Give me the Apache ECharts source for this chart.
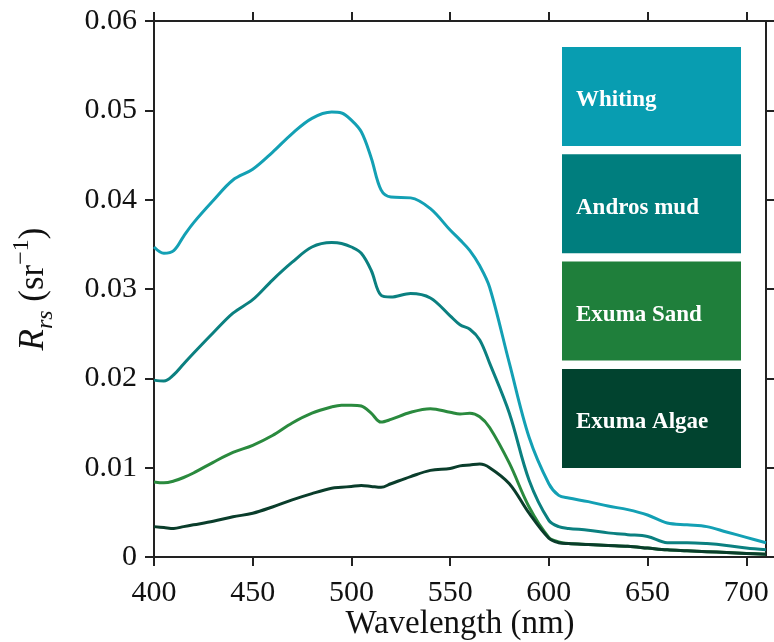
<!DOCTYPE html>
<html>
<head>
<meta charset="utf-8">
<title>Rrs spectra</title>
<script src="https://cdn.jsdelivr.net/npm/echarts@6/dist/echarts.min.js"></script>
<style>
  html, body { margin: 0; padding: 0; background: #fff; }
  #main { width: 774px; height: 642px; }
</style>
</head>
<body>
<div id="main"></div>
<script>
// 数据
var wavelengths = [400, 405, 410, 415, 420, 430, 440, 450, 460, 470, 480, 490, 495, 500, 505, 510, 515, 520, 530, 540, 550,
    555, 560, 565, 570, 580, 590, 600, 605, 610, 620, 630, 640, 650, 660, 670, 680, 690, 700, 710];
var whiting = [0.0347, 0.0340, 0.0343, 0.0359, 0.0374, 0.0399, 0.0422, 0.0434, 0.0453, 0.0474, 0.0491, 0.0498, 0.0497, 0.0489, 0.0476, 0.0447, 0.0411, 0.0403, 0.0402, 0.0390, 0.0366,
    0.0355, 0.0343, 0.0326, 0.0302, 0.0217, 0.0134, 0.0082, 0.0069, 0.0066, 0.0062, 0.0057, 0.0053, 0.0047, 0.0038, 0.0036, 0.0034, 0.0028, 0.0022, 0.0016];
var androsMud = [0.0198, 0.0197, 0.0204, 0.0216, 0.0228, 0.0251, 0.0273, 0.0288, 0.0310, 0.0330, 0.0347, 0.0352, 0.0351, 0.0347, 0.0340, 0.0321, 0.0293, 0.0291, 0.0295, 0.0290, 0.0270,
    0.0260, 0.0255, 0.0243, 0.0217, 0.0161, 0.0086, 0.0041, 0.0034, 0.0032, 0.0030, 0.0027, 0.0025, 0.0023, 0.0016, 0.0016, 0.0015, 0.0013, 0.0010, 0.0008];
var exumaSand = [0.0084, 0.0083, 0.0085, 0.0089, 0.0094, 0.0106, 0.0117, 0.0125, 0.0136, 0.0150, 0.0161, 0.0168, 0.0170, 0.0170, 0.0169, 0.0161, 0.0151, 0.0154, 0.0162, 0.0166, 0.0162,
    0.0160, 0.0161, 0.0157, 0.0145, 0.0105, 0.0056, 0.0022, 0.0017, 0.0015, 0.0014, 0.0013, 0.0012, 0.0010, 0.0008, 0.0007, 0.0006, 0.0005, 0.0004, 0.0003];
var exumaAlgae = [0.0034, 0.0033, 0.0032, 0.0034, 0.0036, 0.0040, 0.0045, 0.0049, 0.0056, 0.0064, 0.0071, 0.0077, 0.0078, 0.0079, 0.0080, 0.0079, 0.0078, 0.0082, 0.0090, 0.0097, 0.0099,
    0.0102, 0.0103, 0.0104, 0.0100, 0.0082, 0.0049, 0.0021, 0.0016, 0.0015, 0.0014, 0.0013, 0.0012, 0.0010, 0.0008, 0.0007, 0.0006, 0.0005, 0.0004, 0.0003];
var seriesNames = ['Whiting', 'Andros mud', 'Exuma Sand', 'Exuma Algae'];
var seriesValues = [whiting, androsMud, exumaSand, exumaAlgae];
var lineColors = ['#13a0b4', '#0b8080', '#2a8a3e', '#0a3d2b'];
var boxColors = ['#089db1', '#007e7e', '#1f7f3b', '#01432f'];
var xTicks = [400, 450, 500, 550, 600, 650, 700];
var yTicks = [0, 0.01, 0.02, 0.03, 0.04, 0.05, 0.06];

var font = '"Liberation Serif", "Times New Roman", serif';
var axisColor = '#222';

var myChart = echarts.init(document.getElementById('main'));

// 折线
var series = [];
for (var i = 0; i < seriesNames.length; i++) {
    var pts = [];
    for (var j = 0; j < wavelengths.length; j++) {
        pts.push([wavelengths[j], seriesValues[i][j]]);
    }
    series.push({
        name: seriesNames[i],
        type: 'line',
        data: pts,
        smooth: 0.35,
        showSymbol: false,
        lineStyle: { color: lineColors[i], width: 3 },
        itemStyle: { color: lineColors[i] },
        z: 2 + i
    });
}

// 图例方块 (右上角)
var graphics = [];
for (var k = 0; k < seriesNames.length; k++) {
    var boxTop = 47 + k * 107.3;
    graphics.push({
        type: 'rect',
        left: 562, top: boxTop,
        shape: { width: 179, height: 99 },
        style: { fill: boxColors[k] },
        z: 10
    });
    graphics.push({
        type: 'text',
        left: 576, top: boxTop + 42,
        style: {
            text: seriesNames[k],
            fill: '#fff',
            font: 'bold 23px ' + font
        },
        z: 11
    });
}

var option = {
    animation: false,
    // 不让标签把绘图区挤小
    grid: { left: 154, right: 8, top: 21, bottom: 85, outerBoundsMode: 'none' },
    xAxis: [
        {
            type: 'value',
            min: 400, max: 710,
            interval: 50,
            name: 'Wavelength (nm)',
            nameLocation: 'middle',
            nameGap: 51,
            nameMoveOverlap: false,
            nameTextStyle: { fontFamily: font, fontSize: 33, color: '#111' },
            axisLine: { show: true, onZero: false, lineStyle: { color: axisColor, width: 2 } },
            axisTick: { show: true, inside: false, length: 9, customValues: xTicks, lineStyle: { color: axisColor, width: 2 } },
            axisLabel: { customValues: xTicks, margin: 21, fontFamily: font, fontSize: 30, color: '#111' },
            splitLine: { show: false }
        },
        {
            type: 'value',
            position: 'top',
            min: 400, max: 710,
            interval: 50,
            axisLine: { show: true, onZero: false, lineStyle: { color: axisColor, width: 2 } },
            axisTick: { show: true, inside: false, length: 9, customValues: xTicks, lineStyle: { color: axisColor, width: 2 } },
            axisLabel: { show: false },
            splitLine: { show: false }
        }
    ],
    yAxis: [
        {
            type: 'value',
            min: 0, max: 0.06,
            interval: 0.01,
            name: '{i|R}{sub|rs}{n| (sr}{sup|\u22121}{n|)}',
            nameLocation: 'middle',
            nameRotate: 90,
            nameGap: 96,
            nameMoveOverlap: false,
            nameTextStyle: {
                color: '#111',
                rich: {
                    i: { fontFamily: font, fontStyle: 'italic', fontSize: 35, lineHeight: 48, verticalAlign: 'middle', color: '#111' },
                    sub: { fontFamily: font, fontStyle: 'italic', fontSize: 24, lineHeight: 48, verticalAlign: 'bottom', color: '#111' },
                    n: { fontFamily: font, fontSize: 35, lineHeight: 48, verticalAlign: 'middle', color: '#111' },
                    sup: { fontFamily: font, fontSize: 24, lineHeight: 48, verticalAlign: 'top', color: '#111' }
                }
            },
            axisLine: { show: true, onZero: false, lineStyle: { color: axisColor, width: 2 } },
            axisTick: { show: true, inside: false, length: 9, customValues: yTicks, lineStyle: { color: axisColor, width: 2 } },
            axisLabel: { customValues: yTicks, margin: 17, fontFamily: font, fontSize: 30, color: '#111' },
            splitLine: { show: false }
        },
        {
            type: 'value',
            position: 'right',
            min: 0, max: 0.06,
            interval: 0.01,
            axisLine: { show: true, onZero: false, lineStyle: { color: axisColor, width: 2 } },
            axisTick: { show: true, inside: false, length: 9, customValues: yTicks, lineStyle: { color: axisColor, width: 2 } },
            axisLabel: { show: false },
            splitLine: { show: false }
        }
    ],
    graphic: graphics,
    series: series
};

myChart.setOption(option);
</script>
</body>
</html>
